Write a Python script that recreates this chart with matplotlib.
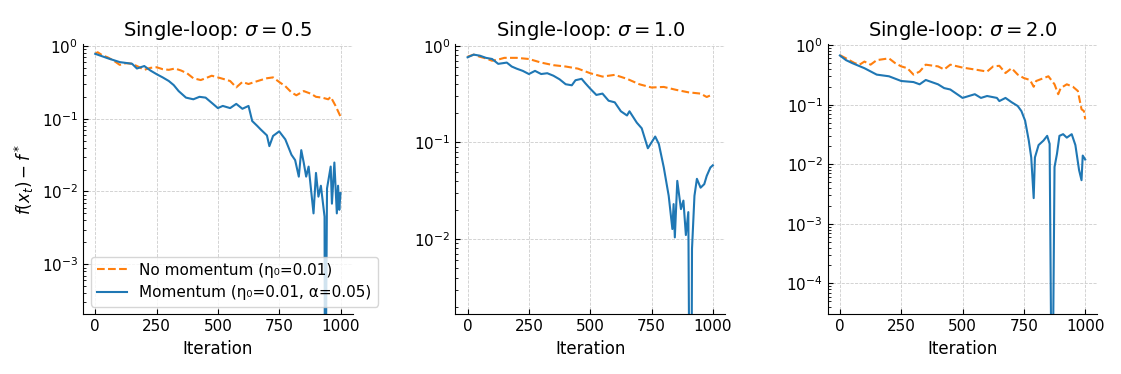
import numpy as np
import matplotlib.pyplot as plt

# values (iteration, f(x_t) - f*)
sigmas = [0.5, 1.0, 2.0]

nomom_it_05 = [0, 10, 30, 50, 75, 100, 125, 150, 175, 200, 225, 250, 275, 300, 325, 350, 375,
               400, 430, 450, 475, 500, 525, 550, 575, 600, 625, 650, 675, 700, 725, 750, 775,
               800, 820, 850, 880, 900, 925, 950, 960, 980, 1000]
nomom_val_05 = [0.78, 0.82, 0.74, 0.70, 0.63, 0.55, 0.58, 0.57, 0.52, 0.47, 0.50, 0.51, 0.48,
                0.47, 0.49, 0.46, 0.42, 0.36, 0.34, 0.36, 0.39, 0.37, 0.35, 0.33, 0.27, 0.32,
                0.30, 0.32, 0.34, 0.36, 0.37, 0.32, 0.28, 0.23, 0.21, 0.24, 0.22, 0.20, 0.195,
                0.185, 0.20, 0.15, 0.107]
mom_it_05 = [0, 50, 100, 150, 170, 200, 225, 250, 275, 300, 320, 340, 370, 400, 425, 450, 480,
             500, 520, 550, 575, 600, 625, 640, 660, 675, 700, 710, 725, 750, 775, 800, 815,
             830, 840, 850, 860, 870, 880, 890, 900, 910, 920, 935, 937, 945, 960, 965, 975,
             985, 990, 995, 1000]
mom_val_05 = [0.78, 0.68, 0.60, 0.57, 0.49, 0.53, 0.46, 0.41, 0.37, 0.33, 0.29, 0.24, 0.195,
              0.185, 0.20, 0.195, 0.16, 0.14, 0.15, 0.14, 0.16, 0.137, 0.15, 0.093, 0.08,
              0.071, 0.059, 0.042, 0.058, 0.067, 0.052, 0.032, 0.027, 0.016, 0.037, 0.025,
              0.016, 0.022, 0.0105, 0.005, 0.018, 0.0085, 0.012, 0.0045, 1e-6, 0.011, 0.022,
              0.0068, 0.025, 0.005, 0.012, 0.0056, 0.0095]

nomom_it_10 = [0, 25, 50, 75, 100, 125, 150, 200, 250, 300, 350, 400, 450, 500, 550, 600, 650,
               700, 750, 800, 850, 900, 950, 975, 1000]
nomom_val_10 = [0.77, 0.81, 0.77, 0.74, 0.70, 0.72, 0.75, 0.75, 0.73, 0.67, 0.63, 0.61, 0.58,
                0.52, 0.48, 0.50, 0.455, 0.40, 0.37, 0.375, 0.35, 0.33, 0.32, 0.295, 0.315]
mom_it_10 = [0, 25, 50, 75, 100, 125, 160, 180, 200, 225, 250, 275, 300, 325, 350, 375, 400,
             425, 440, 465, 480, 500, 525, 550, 575, 600, 625, 650, 660, 690, 710, 735, 750,
             765, 780, 800, 820, 835, 840, 845, 855, 870, 880, 890, 900, 910, 915, 925, 935,
             950, 965, 975, 990, 1000]
mom_val_10 = [0.76, 0.81, 0.79, 0.75, 0.73, 0.65, 0.67, 0.61, 0.58, 0.55, 0.51, 0.55, 0.51,
              0.52, 0.49, 0.45, 0.40, 0.39, 0.44, 0.455, 0.41, 0.36, 0.31, 0.32, 0.27, 0.26,
              0.21, 0.19, 0.21, 0.16, 0.14, 0.087, 0.10, 0.115, 0.096, 0.055, 0.028, 0.0127,
              0.023, 0.0104, 0.04, 0.0204, 0.025, 0.011, 0.019, 1e-6, 0.0079, 0.028, 0.042,
              0.034, 0.037, 0.045, 0.055, 0.058]

nomom_it_20 = [0, 25, 60, 80, 100, 125, 150, 200, 225, 250, 275, 300, 325, 350, 400, 425, 450,
               500, 550, 600, 625, 650, 675, 700, 725, 750, 775, 790, 800, 850, 875, 890, 900,
               925, 950, 970, 985, 995, 1000]
nomom_val_20 = [0.68, 0.60, 0.50, 0.47, 0.53, 0.47, 0.56, 0.60, 0.50, 0.44, 0.41, 0.32, 0.36,
                0.47, 0.44, 0.39, 0.47, 0.42, 0.39, 0.36, 0.44, 0.45, 0.34, 0.41, 0.32, 0.28,
                0.26, 0.20, 0.25, 0.30, 0.22, 0.15, 0.19, 0.22, 0.20, 0.17, 0.084, 0.078, 0.057]
mom_it_20 = [0, 25, 50, 100, 150, 200, 250, 300, 325, 350, 400, 425, 450, 500, 550, 575, 600,
             640, 650, 675, 700, 725, 740, 755, 770, 780, 790, 795, 810, 830, 845, 855, 865,
             875, 885, 895, 910, 925, 945, 960, 975, 985, 990, 1000]
mom_val_20 = [0.67, 0.56, 0.50, 0.41, 0.32, 0.30, 0.25, 0.24, 0.22, 0.26, 0.22, 0.19, 0.18,
              0.13, 0.15, 0.13, 0.14, 0.13, 0.115, 0.13, 0.11, 0.095, 0.078, 0.054, 0.025,
              0.013, 0.0027, 0.013, 0.021, 0.025, 0.030, 0.022, 1e-7, 0.009, 0.015, 0.030,
              0.032, 0.028, 0.032, 0.021, 0.008, 0.0054, 0.014, 0.012]

series = [
    (nomom_it_05, nomom_val_05, mom_it_05, mom_val_05),
    (nomom_it_10, nomom_val_10, mom_it_10, mom_val_10),
    (nomom_it_20, nomom_val_20, mom_it_20, mom_val_20),
]
ylims = [(2.06e-4, 1.06), (1.67e-3, 1.04), (3.04e-5, 1.04)]

fig, axes = plt.subplots(1, 3, figsize=(11.21, 3.74), dpi=100)
fig.subplots_adjust(left=0.074, right=0.979, bottom=0.16, top=0.882, wspace=0.38)

for ax, sigma, (it_a, v_a, it_b, v_b), yl in zip(axes, sigmas, series, ylims):
    ax.plot(it_a, v_a, color='#ff7f0e', linestyle='--', linewidth=1.5,
            label='No momentum (η₀=0.01)')
    ax.plot(it_b, v_b, color='#1f77b4', linewidth=1.5,
            label='Momentum (η₀=0.01, α=0.05)')
    ax.set_yscale('log')
    ax.set_ylim(*yl)
    ax.set_xlim(-50, 1050)
    ax.set_xticks([0, 250, 500, 750, 1000])
    ax.set_title(f'Single-loop: $\\sigma = {sigma}$', fontsize=14)
    ax.set_xlabel('Iteration', fontsize=12)
    ax.grid(True, which='major', linestyle='--', linewidth=0.6, color='#cccccc')
    ax.tick_params(which='both', direction='in', labelsize=11)
    ax.spines['top'].set_visible(False)
    ax.spines['right'].set_visible(False)

axes[0].set_ylabel('$f(x_t) - f^*$', fontsize=12)
axes[0].legend(loc='lower left', fontsize=11)

fig.savefig('out.png')
